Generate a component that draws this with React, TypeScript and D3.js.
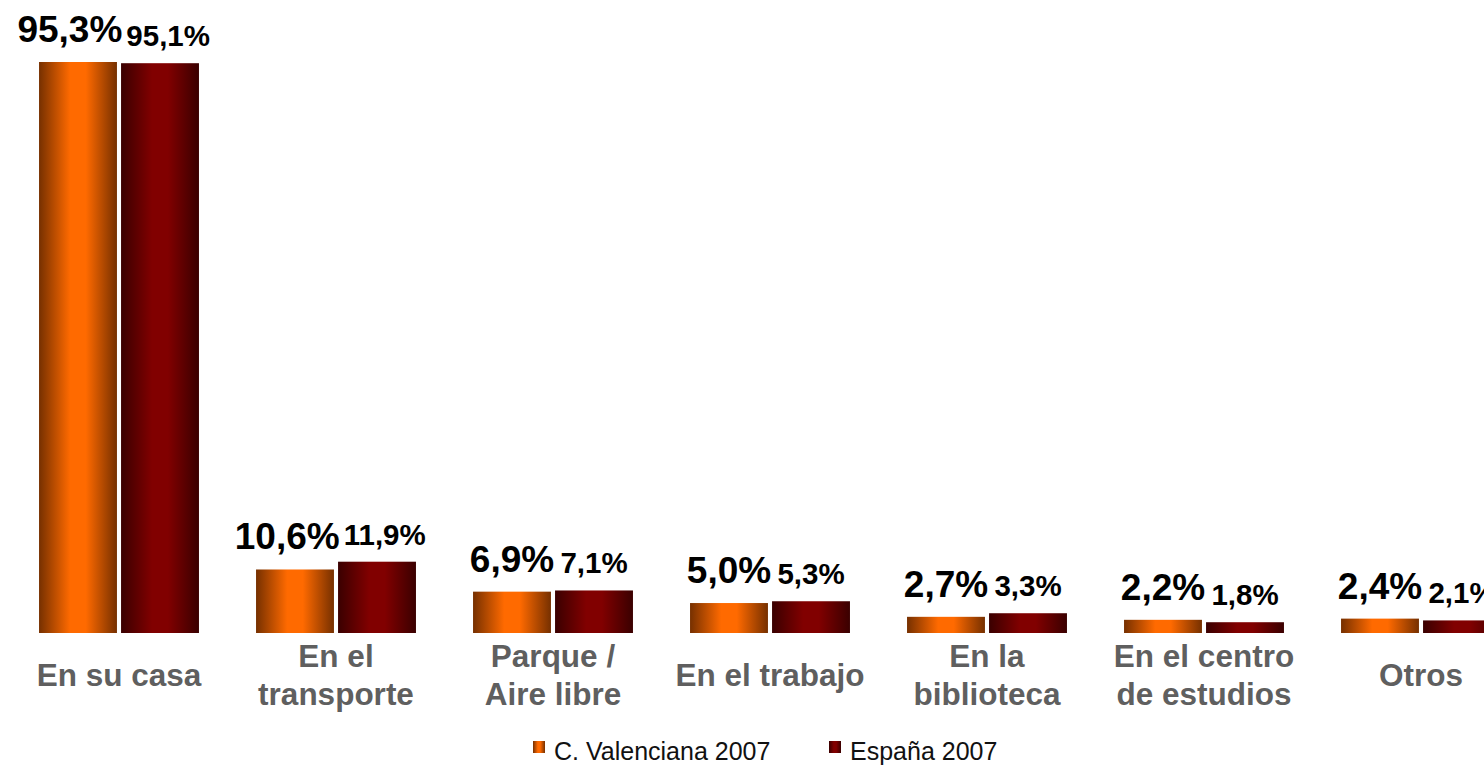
import React, { useEffect, useRef } from "react";
import * as d3 from "d3";

const categories = [
  "En su casa",
  "En el\ntransporte",
  "Parque /\nAire libre",
  "En el trabajo",
  "En la\nbiblioteca",
  "En el centro\nde estudios",
  "Otros",
];
const seriesNames = ["C. Valenciana 2007", "España 2007"];
const valenciana = [95.3, 10.6, 6.9, 5.0, 2.7, 2.2, 2.4];
const espana = [95.1, 11.9, 7.1, 5.3, 3.3, 1.8, 2.1];

const W = 1484;
const H = 765;
const FONT = "'Liberation Sans', Arial, sans-serif";

const fmt = (v: number) => v.toFixed(1).replace(".", ",") + "%";

export default function App() {
  const ref = useRef<SVGSVGElement>(null);

  useEffect(() => {
    const svg = d3.select(ref.current);
    svg.selectAll("*").remove();

    const defs = svg.append("defs");
    const grads = [
      { id: "gOrange", edge: "#763000", mid: "#ff6a00" },
      { id: "gRed", edge: "#3a0000", mid: "#810000" },
    ];
    grads.forEach((g) => {
      const lg = defs
        .append("linearGradient")
        .attr("id", g.id)
        .attr("x1", "0%")
        .attr("x2", "100%")
        .attr("y1", "0%")
        .attr("y2", "0%");
      lg.append("stop").attr("offset", "0%").attr("stop-color", g.edge);
      lg.append("stop").attr("offset", "40%").attr("stop-color", g.mid);
      lg.append("stop").attr("offset", "60%").attr("stop-color", g.mid);
      lg.append("stop").attr("offset", "100%").attr("stop-color", g.edge);
    });

    const x0 = d3
      .scaleBand<string>()
      .domain(categories)
      .range([10.5, 1529.5])
      .paddingInner(0.263)
      .paddingOuter(0.1315);

    const x1 = d3
      .scaleBand<string>()
      .domain(seriesNames)
      .range([0, x0.bandwidth()])
      .paddingInner(0.05);

    const y = d3
      .scaleLinear()
      .domain([0, d3.max(valenciana.concat(espana)) as number])
      .range([633, 62]);

    const series = [
      { name: seriesNames[0], values: valenciana, fill: "url(#gOrange)", size: 37, gap: 20 },
      { name: seriesNames[1], values: espana, fill: "url(#gRed)", size: 29.5, gap: 17 },
    ];

    const g = svg.append("g");
    const labelSel: any[] = [];

    series.forEach((s) => {
      g.selectAll(null)
        .data(categories)
        .enter()
        .append("rect")
        .attr("x", (c) => (x0(c) as number) + (x1(s.name) as number))
        .attr("y", (c, i) => y(s.values[i]))
        .attr("width", x1.bandwidth())
        .attr("height", (c, i) => y(0) - y(s.values[i]))
        .attr("fill", s.fill);

      const lbl = g
        .selectAll(null)
        .data(categories)
        .enter()
        .append("text")
        .attr("x", (c) => (x0(c) as number) + (x1(s.name) as number) + x1.bandwidth() / 2)
        .attr("y", (c, i) => y(s.values[i]) - s.gap)
        .attr("text-anchor", "middle")
        .attr("font-family", FONT)
        .attr("font-weight", "bold")
        .attr("font-size", s.size)
        .attr("fill", "#000")
        .text((c, i) => fmt(s.values[i]));
      labelSel.push(lbl.nodes());
    });

    // push overlapping value labels apart
    categories.forEach((c, i) => {
      const a = labelSel[0][i] as SVGTextElement;
      const b = labelSel[1][i] as SVGTextElement;
      const ax = +a.getAttribute("x")!;
      const bx = +b.getAttribute("x")!;
      const aw = a.getComputedTextLength();
      const bw = b.getComputedTextLength();
      const overlap = ax + aw / 2 + 4 - (bx - bw / 2);
      if (overlap > 0) {
        a.setAttribute("x", String(ax - overlap / 2));
        b.setAttribute("x", String(bx + overlap / 2));
      }
    });

    // category labels
    categories.forEach((c) => {
      const lines = c.split("\n");
      const cx = (x0(c) as number) + x0.bandwidth() / 2;
      const lh = 38;
      const t = g
        .append("text")
        .attr("text-anchor", "middle")
        .attr("font-family", FONT)
        .attr("font-weight", "bold")
        .attr("font-size", 31.5)
        .attr("fill", "#5f5f5f");
      lines.forEach((ln, k) => {
        t.append("tspan")
          .attr("x", cx)
          .attr("y", 686 + (k - (lines.length - 1) / 2) * lh)
          .text(ln);
      });
    });

    // legend
    const legend = svg.append("g");
    const legendX = [533, 829];
    series.forEach((s, i) => {
      legend
        .append("rect")
        .attr("x", legendX[i])
        .attr("y", 741)
        .attr("width", 12)
        .attr("height", 12)
        .attr("fill", s.fill);
      legend
        .append("text")
        .attr("x", legendX[i] + 21)
        .attr("y", 760)
        .attr("font-family", FONT)
        .attr("font-size", 25)
        .attr("fill", "#111")
        .text(s.name);
    });
  }, []);

  return (
    <svg
      ref={ref}
      width={W}
      height={H}
      style={{ position: "absolute", left: 0, top: 0, background: "#fff" }}
    ></svg>
  );
}
